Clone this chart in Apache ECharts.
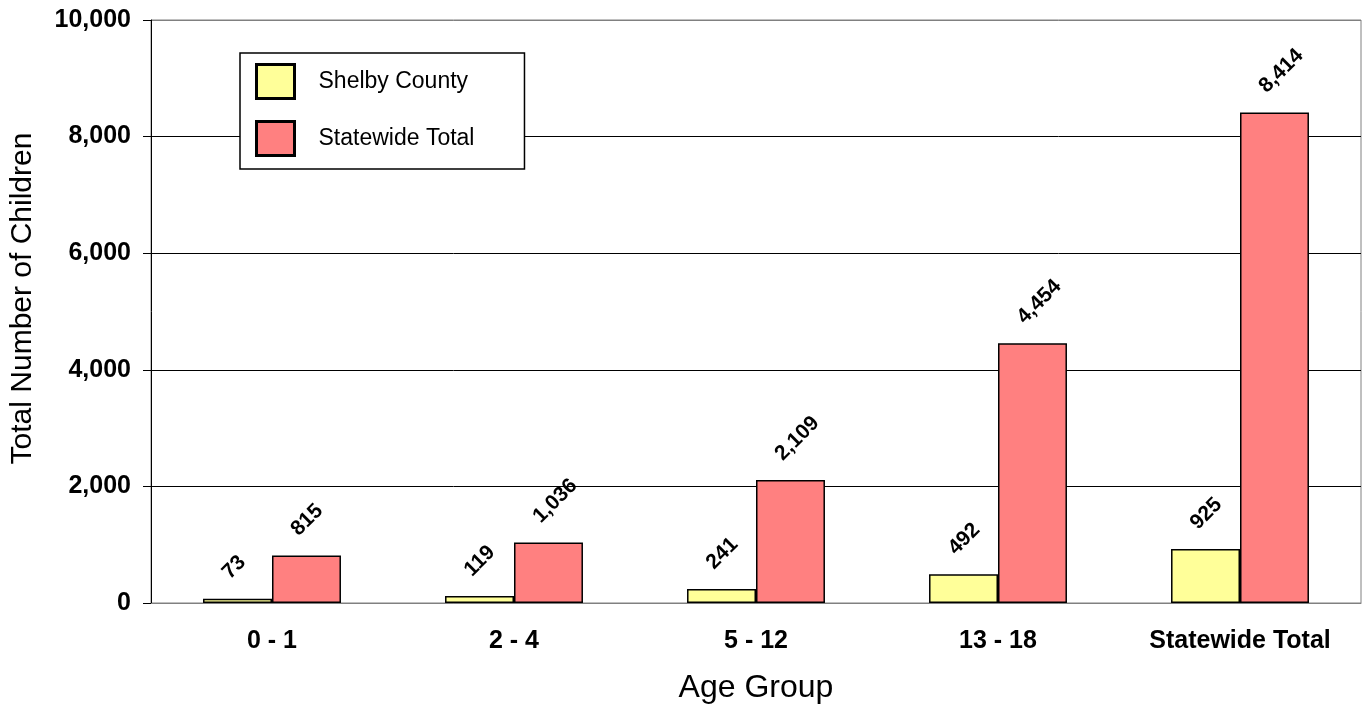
<!DOCTYPE html>
<html>
<head>
<meta charset="utf-8">
<title>Total Number of Children by Age Group</title>
<script src="https://cdn.jsdelivr.net/npm/echarts@6/dist/echarts.min.js"></script>
<style>
  html, body { margin: 0; padding: 0; background: #fff; }
  #chart { width: 1364px; height: 709px; }
</style>
</head>
<body>
<div id="chart"></div>
<script>
// Age groups on the category axis
const categories = ['0 - 1', '2 - 4', '5 - 12', '13 - 18', 'Statewide Total'];
// Number of children per age group
const shelbyCounty = [73, 119, 241, 492, 925];
const statewideTotal = [815, 1036, 2109, 4454, 8414];
// Value axis range
const yMin = 0;
const yMax = 10000;
const yStep = 2000;

const FONT = 'Arial, "Liberation Sans", Helvetica, sans-serif';

const fmt = v => Number(v).toLocaleString('en-US');

const barLabel = {
  show: true,
  position: ['33%', -23],
  rotate: 45,
  align: 'left',
  verticalAlign: 'middle',
  fontFamily: FONT,
  fontSize: 21,
  fontWeight: 'bold',
  color: '#000',
  formatter: p => fmt(p.value)
};

const chart = echarts.init(document.getElementById('chart'), null, { renderer: 'canvas' });

chart.setOption({
  animation: false,
  backgroundColor: '#fff',
  textStyle: { fontFamily: FONT },
  grid: {
    left: 149, right: 3, top: 20, bottom: 106,
    show: true,
    borderColor: '#808080',
    borderWidth: 1,
    backgroundColor: '#fff'
  },
  legend: {
    orient: 'vertical',
    left: 240,
    top: 53,
    padding: [10, 50, 12, 15],
    itemGap: 20,
    itemWidth: 38,
    itemHeight: 34,
    icon: 'rect',
    backgroundColor: '#fff',
    borderColor: '#000',
    borderWidth: 1.5,
    borderRadius: 0,
    itemStyle: { borderColor: '#000', borderWidth: 3 },
    textStyle: {
      fontFamily: FONT,
      fontSize: 23,
      color: '#000',
      padding: [0, 0, 0, 19]
    },
    data: ['Shelby County', 'Statewide Total']
  },
  xAxis: {
    type: 'category',
    data: categories,
    name: 'Age Group',
    nameLocation: 'middle',
    nameGap: 69,
    nameTextStyle: { fontFamily: FONT, fontSize: 32, color: '#000' },
    axisLine: { lineStyle: { color: '#808080', width: 1 } },
    axisTick: { show: false },
    axisLabel: {
      interval: 0,
      margin: 26,
      fontFamily: FONT,
      fontSize: 25,
      fontWeight: 'bold',
      color: '#000'
    },
    splitLine: { show: false }
  },
  yAxis: {
    type: 'value',
    min: yMin,
    max: yMax,
    interval: yStep,
    name: 'Total Number of Children',
    nameLocation: 'middle',
    nameGap: 113,
    nameTextStyle: {
      fontFamily: FONT,
      fontSize: 30,
      color: '#000',
      padding: [0, 0, 0, 26]
    },
    axisLine: { show: true, lineStyle: { color: '#000', width: 1 } },
    axisTick: { show: true, length: 8, lineStyle: { color: '#000', width: 1 } },
    axisLabel: {
      margin: 20,
      fontFamily: FONT,
      fontSize: 25,
      fontWeight: 'bold',
      color: '#000',
      formatter: v => fmt(v)
    },
    splitLine: {
      show: true,
      lineStyle: {
        color: ['#808080', '#000', '#000', '#000', '#000', '#808080'],
        width: 1
      }
    }
  },
  series: [
    {
      name: 'Shelby County',
      type: 'bar',
      data: shelbyCounty,
      barGap: '0%',
      barCategoryGap: '43%',
      itemStyle: { color: '#FFFF99', borderColor: '#000', borderWidth: 1.5 },
      label: barLabel
    },
    {
      name: 'Statewide Total',
      type: 'bar',
      data: statewideTotal,
      barGap: '0%',
      barCategoryGap: '43%',
      itemStyle: { color: '#FF8080', borderColor: '#000', borderWidth: 1.5 },
      label: barLabel
    }
  ]
});
</script>
</body>
</html>
